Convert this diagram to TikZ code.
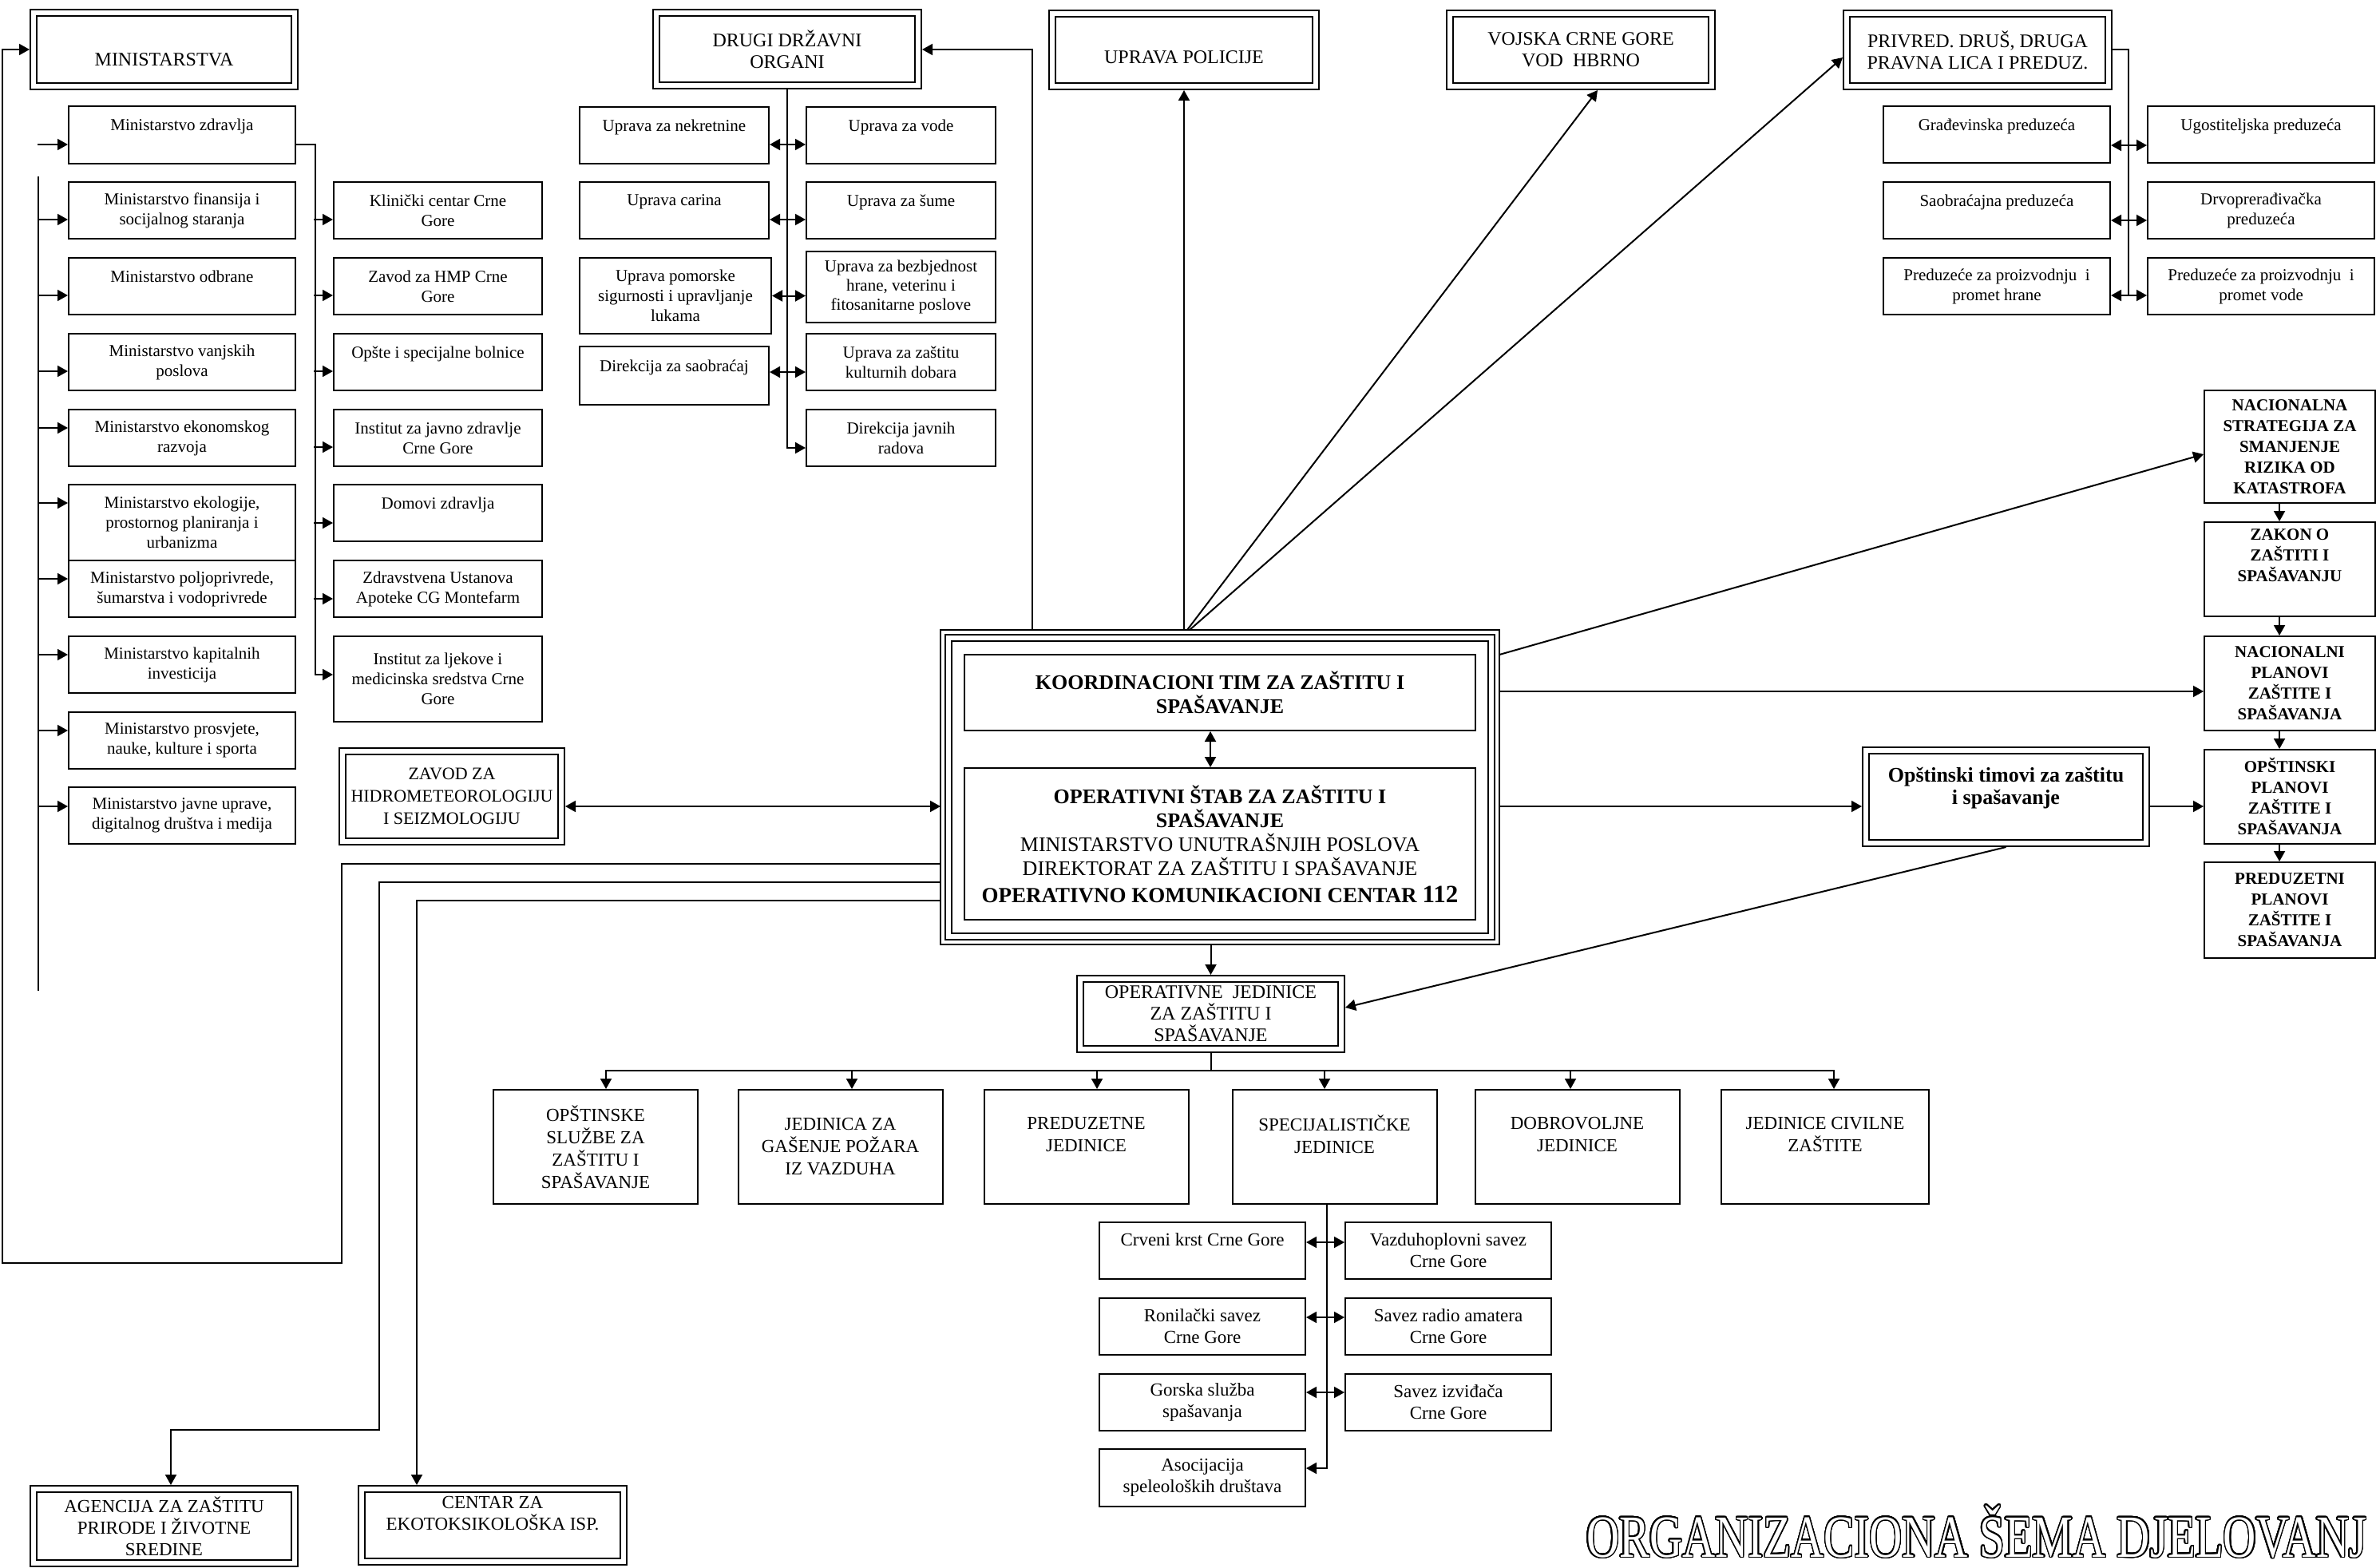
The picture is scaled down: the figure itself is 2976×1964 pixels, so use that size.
\documentclass[tikz,border=0pt]{standalone}
\usepackage{fontspec}
\setmainfont{Liberation Serif}
\usepackage{graphicx}
\usepackage{contour}
\usetikzlibrary{arrows.meta,calc}
\contourlength{0.9pt}
\contournumber{32}

\newcommand\szA{\fontsize{10.5}{12.5}\selectfont}
\newcommand\szB{\fontsize{12}{13.5}\selectfont}
\newcommand\szC{\fontsize{11.5}{14}\selectfont}
\newcommand\szD{\fontsize{11.5}{13.5}\selectfont}
\newcommand\szE{\bfseries\fontsize{13}{15}\selectfont}
\newcommand\szF{\bfseries\fontsize{10.5}{13}\selectfont}
\newcommand\szG{\bfseries\fontsize{13}{14}\selectfont}
\newcommand\szZ{\fontsize{11}{14}\selectfont}

\tikzset{
 wh/.style 2 args={minimum width=#1*0.5pt, minimum height=#2*0.5pt},
 bx/.style={draw, line width=1pt, fill=white, inner sep=1pt, align=center, font=\szA},
 dbl/.style={bx, double, double distance=3pt, outer sep=2.5pt},
 >={Triangle[length=6.5pt,width=7pt]},
}

\begin{document}
\begin{tikzpicture}[x=0.5pt, y=-0.5pt, line width=1pt]
\useasboundingbox (0,0) rectangle (2976,1964);
\fill[white] (0,0) rectangle (2976,1964);

% ---------------- MINISTARSTVA ----------------
\node[dbl, wh={327}{92}, font=\szB] (mins) at (205.5,62) {\raisebox{-6.5pt}[\height][\depth]{MINISTARSTVA}};

\node[bx, wh={284}{72}] (mz) at (228,169) {Ministarstvo zdravlja\\\mbox{}};
\node[bx, wh={284}{71}] (mf) at (228,263.5) {Ministarstvo finansija i\\socijalnog staranja};
\node[bx, wh={284}{71}] (mo) at (228,358.5) {Ministarstvo odbrane\\\mbox{}};
\node[bx, wh={284}{71}] (mv) at (228,453.5) {Ministarstvo vanjskih\\poslova};
\node[bx, wh={284}{71}] (me) at (228,548.5) {Ministarstvo ekonomskog\\razvoja};
\node[bx, wh={284}{95}] (mek) at (228,654.5) {Ministarstvo ekologije,\\prostornog planiranja i\\urbanizma};
\node[bx, wh={284}{71}] (mp) at (228,737.5) {Ministarstvo poljoprivrede,\\šumarstva i vodoprivrede};
\node[bx, wh={284}{71}] (mk) at (228,832.5) {Ministarstvo kapitalnih\\investicija};
\node[bx, wh={284}{71}] (mpr) at (228,927.5) {Ministarstvo prosvjete,\\nauke, kulture i sporta};
\node[bx, wh={284}{71}] (mj) at (228,1021.5) {Ministarstvo javne uprave,\\digitalnog društva i medija};

\node[bx, wh={261}{71}] (kc) at (548.5,263.5) {Klinički centar Crne\\Gore};
\node[bx, wh={261}{71}] (zh) at (548.5,358.5) {Zavod za HMP Crne\\Gore};
\node[bx, wh={261}{71}] (osb) at (548.5,453.5) {Opšte i specijalne bolnice\\\mbox{}};
\node[bx, wh={261}{71}] (ij) at (548.5,548.5) {Institut za javno zdravlje\\Crne Gore};
\node[bx, wh={261}{71}] (dz) at (548.5,642.5) {Domovi zdravlja\\\mbox{}};
\node[bx, wh={261}{71}] (zu) at (548.5,737.5) {Zdravstvena Ustanova\\Apoteke CG Montefarm};
\node[bx, wh={261}{107}] (il) at (548.5,850.5) {Institut za ljekove i\\medicinska sredstva Crne\\Gore};

\coordinate (spT) at (48,221);
\coordinate (spB) at (48,1241);
\draw (spT) -- (spB);
\draw[<-] ([yshift=-6pt]mz.west) -- ++(-38,0);
\draw[<-] ([yshift=-5.75pt]mf.west) -- ++(-38,0);
\draw[<-] ([yshift=-5.75pt]mo.west) -- ++(-38,0);
\draw[<-] ([yshift=-5.75pt]mv.west) -- ++(-38,0);
\draw[<-] ([yshift=6.25pt]me.west) -- ++(-38,0);
\draw[<-] ([yshift=12.25pt]mek.west) -- ++(-38,0);
\draw[<-] ([yshift=6.25pt]mp.west) -- ++(-38,0);
\draw[<-] ([yshift=6.25pt]mk.west) -- ++(-38,0);
\draw[<-] ([yshift=6.25pt]mpr.west) -- ++(-38,0);
\draw[<-] ([yshift=5.75pt]mj.west) -- ++(-38,0);

\draw[->] ([yshift=-6pt]mz.east) -- ++(24,0) |- ([yshift=2.75pt]il.west);
\draw[<-] ([yshift=-5.75pt]kc.west) -- ++(-24,0);
\draw[<-] ([yshift=-5.75pt]zh.west) -- ++(-24,0);
\draw[<-] ([yshift=-5.75pt]osb.west) -- ++(-24,0);
\draw[<-] ([yshift=-5.75pt]ij.west) -- ++(-24,0);
\draw[<-] ([yshift=-6.25pt]dz.west) -- ++(-24,0);
\draw[<-] ([yshift=-6.25pt]zu.west) -- ++(-24,0);

% ---------------- DRUGI DRZAVNI ORGANI ----------------
\node[dbl, wh={328}{91}, font=\szB] (drugi) at (986,62) {DRUGI DRŽAVNI\\ORGANI};
\node[bx, wh={237}{71}] (un) at (844.5,169.5) {Uprava za nekretnine\\\mbox{}};
\node[bx, wh={237}{71}] (uv) at (1128.5,169.5) {Uprava za vode\\\mbox{}};
\node[bx, wh={237}{71}] (uc) at (844.5,263.5) {Uprava carina\\\mbox{}};
\node[bx, wh={237}{71}] (us) at (1128.5,263.5) {Uprava za šume\\\mbox{}};
\node[bx, wh={240}{95}] (upm) at (846,370.5) {Uprava pomorske\\sigurnosti i upravljanje\\lukama};
\node[bx, wh={237}{89}, font=\fontsize{10.5}{12}\selectfont] (ubh) at (1128.5,359.5) {Uprava za bezbjednost\\hrane, veterinu i\\fitosanitarne poslove};
\node[bx, wh={237}{73}] (dsa) at (844.5,470.5) {Direkcija za saobraćaj\\\mbox{}};
\node[bx, wh={237}{71}] (uzk) at (1128.5,453.5) {Uprava za zaštitu\\kulturnih dobara};
\node[bx, wh={237}{71}] (djr) at (1128.5,548.5) {Direkcija javnih\\radova};

\draw[->] (drugi.south) |- ([yshift=-6.25pt]djr.west);
\draw[<->] ([yshift=-5.75pt]un.east) -- ([yshift=-5.75pt]uv.west);
\draw[<->] ([yshift=-5.75pt]uc.east) -- ([yshift=-5.75pt]us.west);
\draw[<->] (upm.east) -- (upm.east -| ubh.west);
\draw[<->] ([yshift=2.25pt]dsa.east) -- ([yshift=-6.25pt]uzk.west);

% ---------------- TOP MIDDLE ----------------
\node[dbl, wh={330}{91}, font=\szB] (upol) at (1483,62.5) {\raisebox{-4.5pt}[\height][\depth]{UPRAVA POLICIJE}};
\node[dbl, wh={328}{91}, font=\szB] (voj) at (1980,62.5) {VOJSKA CRNE GORE\\VOD~ HBRNO};

% ---------------- PRIVRED ----------------
\node[dbl, wh={328}{91}, font=\szB] (pr) at (2477,62.5) {PRIVRED. DRUŠ, DRUGA\\PRAVNA LICA I PREDUZ.};
\node[bx, wh={284}{71}] (gp) at (2501,168.5) {Građevinska preduzeća\\\mbox{}};
\node[bx, wh={284}{71}] (ug) at (2832,168.5) {Ugostiteljska preduzeća\\\mbox{}};
\node[bx, wh={284}{71}] (sap) at (2501,263.5) {Saobraćajna preduzeća\\\mbox{}};
\node[bx, wh={284}{71}] (dp) at (2832,263.5) {Drvoprerađivačka\\preduzeća};
\node[bx, wh={284}{71}] (ph) at (2501,358.5) {Preduzeće za proizvodnju~ i\\promet hrane};
\node[bx, wh={284}{71}] (pv) at (2832,358.5) {Preduzeće za proizvodnju~ i\\promet vode};

\draw (pr.east) -- ++(20,0) -- ++(0,307.5);
\draw[<->] ([yshift=-6.75pt]gp.east) -- ([yshift=-6.75pt]ug.west);
\draw[<->] ([yshift=-6.25pt]sap.east) -- ([yshift=-6.25pt]dp.west);
\draw[<->] ([yshift=-5.75pt]ph.east) -- ([yshift=-5.75pt]pv.west);

% ---------------- CENTRAL ----------------
\node[dbl, wh={680}{374}, outer sep=5pt] (cb) at (1528,986) {};
\draw (cb.north west) rectangle (cb.south east);
\node[bx, wh={640}{95}, font=\szE] (ko) at (1528,867.5) {KOORDINACIONI TIM ZA ZAŠTITU I\\SPAŠAVANJE};
\node[bx, wh={640}{190}, font=\fontsize{13}{15}\selectfont] (ost) at (1528,1057) {\textbf{OPERATIVNI ŠTAB ZA ZAŠTITU I}\\\textbf{SPAŠAVANJE}\\MINISTARSTVO UNUTRAŠNJIH POSLOVA\\DIREKTORAT ZA ZAŠTITU I SPAŠAVANJE\\[2pt]{\bfseries\fontsize{13.5}{15}\selectfont OPERATIVNO KOMUNIKACIONI CENTAR {\fontsize{15.5}{15}\selectfont 112}}};
\draw[<->] ([xshift=-6pt]ko.south) -- ([xshift=-6pt]ost.north);

\draw[->] (upol.south |- cb.north) -- (upol.south);
\draw[->] ([xshift=-20.5pt]cb.north) -- ([xshift=10.5pt]voj.south);
\draw[->] ([xshift=-19pt]cb.north) -- ([yshift=-4.75pt]pr.west);
\draw[->] ([xshift=-117.5pt]cb.north) |- (drugi.east);

% ---------------- ZAVOD ----------------
\node[dbl, wh={274}{113}, font=\szZ] (zav) at (566,997.5) {ZAVOD ZA\\HIDROMETEOROLOGIJU\\I SEIZMOLOGIJU};
\coordinate (za) at ([yshift=-6.25pt]zav.east);
\draw[<->] (za) -- (za -| cb.west);

% ---------------- RIGHT COLUMN ----------------
\node[bx, wh={214}{141}, font=\szF] (ns) at (2868,559.5) {NACIONALNA\\STRATEGIJA ZA\\SMANJENJE\\RIZIKA OD\\KATASTROFA};
\node[bx, wh={214}{118}, font=\szF] (nz) at (2868,713) {ZAKON O\\ZAŠTITI I\\SPAŠAVANJU\\[4pt]\mbox{}};
\node[bx, wh={214}{118}, font=\szF] (npl) at (2868,856) {NACIONALNI\\PLANOVI\\ZAŠTITE I\\SPAŠAVANJA};
\node[bx, wh={214}{118}, font=\szF] (opl) at (2868,998) {OPŠTINSKI\\PLANOVI\\ZAŠTITE I\\SPAŠAVANJA};
\node[bx, wh={214}{120}, font=\szF] (ppl) at (2868,1140) {PREDUZETNI\\PLANOVI\\ZAŠTITE I\\SPAŠAVANJA};
\draw[->] ([xshift=-6.5pt]ns.south) -- ([xshift=-6.5pt]nz.north);
\draw[->] ([xshift=-6.5pt]nz.south) -- ([xshift=-6.5pt]npl.north);
\draw[->] ([xshift=-6.5pt]npl.south) -- ([xshift=-6.5pt]opl.north);
\draw[->] ([xshift=-6.5pt]opl.south) -- ([xshift=-6.5pt]ppl.north);

\node[dbl, wh={351}{116}, font=\szG] (ot) at (2512.5,998) {Opštinski timovi za zaštitu\\i spašavanje\\\mbox{}};

\draw[->] ([yshift=83pt]cb.east) -- ([yshift=-4.75pt]ns.west);
\coordinate (c2) at ([yshift=60pt]cb.east);
\draw[->] (c2) -- (c2 -| npl.west);
\coordinate (c3) at ([yshift=-12pt]cb.east);
\draw[->] (c3) -- (c3 -| ot.west);
\coordinate (c4) at ([yshift=-6pt]ot.east);
\draw[->] (c4) -- (c4 -| opl.west);

% ---------------- OPERATIVNE JEDINICE ----------------
\node[dbl, wh={327}{88}, font=\szB] (oj) at (1516.5,1270) {OPERATIVNE~ JEDINICE\\ZA ZAŠTITU I\\SPAŠAVANJE};
\draw[->] (oj.north |- cb.south) -- (oj.north);
\draw[->] (ot.south) -- ([yshift=4pt]oj.east);

\coordinate (busL) at (759,1341);
\coordinate (busR) at (2297,1341);
\draw (oj.south) -- (oj.south |- busL);
\draw (busL) -- (busR);

\node[bx, wh={256}{143}, font=\szC] (b1) at (746,1436.5) {OPŠTINSKE\\SLUŽBE ZA\\ZAŠTITU I\\SPAŠAVANJE};
\node[bx, wh={256}{143}, font=\szC] (b2) at (1052.5,1436.5) {JEDINICA ZA\\GAŠENJE POŽARA\\IZ VAZDUHA};
\node[bx, wh={256}{143}, font=\szC] (b3) at (1360.5,1436.5) {PREDUZETNE\\JEDINICE\\[2pt]\mbox{}};
\node[bx, wh={256}{143}, font=\szC] (b4) at (1671.5,1436.5) {SPECIJALISTIČKE\\JEDINICE\\[2pt]\mbox{}};
\node[bx, wh={256}{143}, font=\szC] (b5) at (1975.5,1436.5) {DOBROVOLJNE\\JEDINICE\\[2pt]\mbox{}};
\node[bx, wh={260}{143}, font=\szC] (b6) at (2286,1436.5) {JEDINICE CIVILNE\\ZAŠTITE\\[2pt]\mbox{}};
\draw[<-] ([xshift=6.5pt]b1.north) -- ++(0,-24);
\draw[<-] ([xshift=7.25pt]b2.north) -- ++(0,-24);
\draw[<-] ([xshift=6.75pt]b3.north) -- ++(0,-24);
\draw[<-] ([xshift=-6.25pt]b4.north) -- ++(0,-24);
\draw[<-] ([xshift=-4.25pt]b5.north) -- ++(0,-24);
\draw[<-] ([xshift=5.5pt]b6.north) -- ++(0,-24);

% ---------------- SPECIJALISTICKE ----------------
\node[bx, wh={258}{71}, font=\szD] (kr) at (1506,1566.5) {Crveni krst Crne Gore\\\mbox{}};
\node[bx, wh={258}{71}, font=\szD] (vz) at (1814,1566.5) {Vazduhoplovni savez\\Crne Gore};
\node[bx, wh={258}{71}, font=\szD] (rs) at (1506,1661.5) {Ronilački savez\\Crne Gore};
\node[bx, wh={258}{71}, font=\szD] (ra) at (1814,1661.5) {Savez radio amatera\\Crne Gore};
\node[bx, wh={258}{71}, font=\szD] (gs) at (1506,1756.5) {Gorska služba\\spašavanja};
\node[bx, wh={258}{71}, font=\szD] (si) at (1814,1756.5) {Savez izviđača\\Crne Gore};
\node[bx, wh={258}{72}, font=\szD] (aso) at (1506,1851) {Asocijacija\\speleoloških društava};
\draw[->] ([xshift=-4.75pt]b4.south) |- ([yshift=6pt]aso.east);
\draw[<->] ([yshift=5.25pt]kr.east) -- ([yshift=5.25pt]vz.west);
\draw[<->] ([yshift=5.75pt]rs.east) -- ([yshift=5.75pt]ra.west);
\draw[<->] ([yshift=6.25pt]gs.east) -- ([yshift=6.25pt]si.west);

% ---------------- BOTTOM LEFT ----------------
\node[dbl, wh={327}{93}, font=\szD] (ag) at (205.5,1911.5) {AGENCIJA ZA ZAŠTITU\\PRIRODE I ŽIVOTNE\\SREDINE};
\node[dbl, wh={328}{91}, font=\szD] (ce) at (617,1910.5) {CENTAR ZA\\EKOTOKSIKOLOŠKA ISP.\\[2pt]\mbox{}};

\draw[->] ([yshift=-48pt]cb.west) -- ++(-750,0) -- ++(0,500) -- ++(-425,0) |- (mins.west);
\draw[->] ([yshift=-59.5pt]cb.west) -- ++(-703,0) -- ++(0,686) -| ([xshift=4.25pt]ag.north);
\draw[->] ([yshift=-71pt]cb.west) -| ([xshift=-47.5pt]ce.north);

% ---------------- TITLE ----------------
\node[anchor=base west, inner sep=0pt, font=\fontsize{37.5}{40}\selectfont] (title) at (1986,1950)
 {\scalebox{0.76}[1]{\textcolor{white}{\contour{black}{ORGANIZACIONA ŠEMA DJELOVANJ}}}};
\end{tikzpicture}
\end{document}
